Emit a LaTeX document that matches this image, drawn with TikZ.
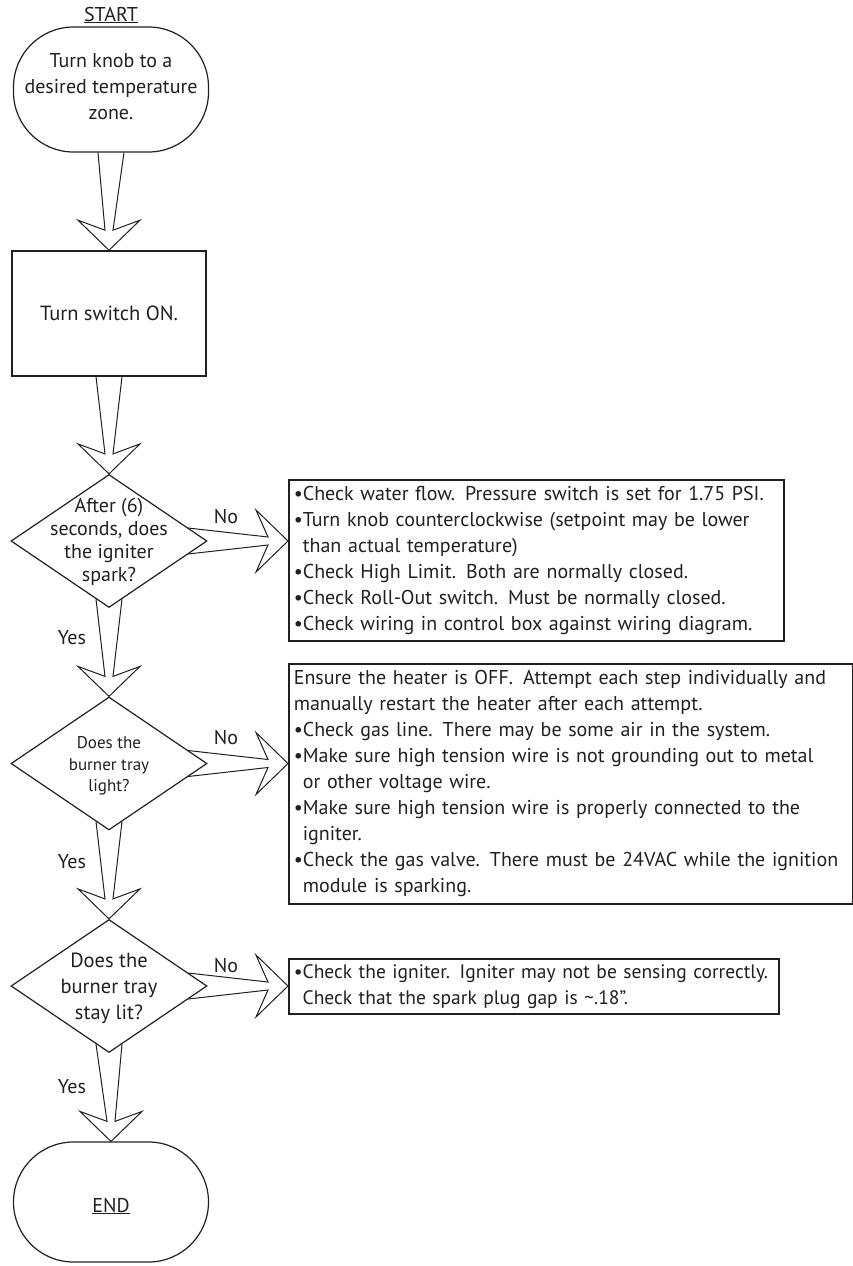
\documentclass[tikz,border=0pt]{standalone}
\usepackage{fontspec}
\setmainfont{PT Sans}
\usetikzlibrary{shapes.geometric,calc}
\definecolor{ink}{HTML}{231F20}
\newcommand{\dnarrow}[2]{%
  \draw[blockarrow] ($(#1)+(-13,0)$) -- ($(#2)+(-4,20)$) -- ($(#2)+(-31,30)$) -- (#2)
    -- ($(#2)+(31,30)$) -- ($(#2)+(4,20)$) -- ($(#1)+(13,0)$);}
\newcommand{\rtarrow}[2]{%
  \draw[blockarrow] ($(#1)+(0,13)$) -- ($(#2)+(-20,4)$) -- ($(#2)+(-32,31)$) -- (#2)
    -- ($(#2)+(-32,-31)$) -- ($(#2)+(-20,-4)$) -- ($(#1)+(0,-13)$);}
\newcommand{\cont}{\phantom{•}}
\newcommand{\tline}[1]{\mbox{#1}}
\newcommand{\dsp}{\hspace{0.5em}}
\tikzset{
  txt/.style={font=\fontsize{20}{26}\selectfont, text=ink},
  outline/.style={draw=ink, line width=1.6pt},
  termnode/.style={outline, line width=1.2pt, rounded corners=60pt, minimum width=195pt, minimum height=125pt, inner sep=0pt},
  procbox/.style={outline, rectangle, minimum width=194pt, minimum height=125pt, inner sep=0pt, txt},
  decision/.style={outline, line width=1.2pt, diamond, minimum width=196pt, minimum height=133pt, inner sep=0pt},
  notebox/.style={outline, rectangle, anchor=north west, inner xsep=5pt, inner ysep=2pt, align=left, txt},
  blockarrow/.style={draw=ink, line width=1pt, line join=miter},
}
\begin{document}
\begin{tikzpicture}[x=1pt,y=1pt]
\useasboundingbox (0,0) rectangle (853,-1266);
% labels
\node[txt] (startlbl) at (111,-15) {\underline{START}};
% terminal and process nodes
\node[termnode] (start) at (111,-89.5) {};
\node[txt, align=center] (starttxt) at (111,-87) {Turn knob to a\\desired temperature\\zone.};
\node[procbox, font=\fontsize{20.5}{26}\selectfont] (sw) at (109,-313.5) {Turn switch ON.};
% decisions
\node[decision] (d1) at (109,-541) {};
\node[txt, font=\fontsize{20}{23}\selectfont, align=center] (d1txt) at (109,-542) {After (6)\\seconds, does\\the igniter\\spark?};
\node[decision] (d2) at (109,-763.5) {};
\node[txt, font=\fontsize{17}{21.5}\selectfont, align=center] (d2txt) at (109,-766) {Does the\\burner tray\\light?};
\node[decision] (d3) at (109,-986) {};
\node[txt, font=\fontsize{20.5}{26}\selectfont, align=center] (d3txt) at (109,-988) {Does the\\burner tray\\stay lit?};
\node[termnode, minimum height=120pt] (end) at (111,-1202) {};
\node[txt] (endlbl) at (111,-1206) {\underline{END}};
% note boxes
\node[notebox, text width=485pt, minimum height=161pt] (n1) at (288,-479) {%
\tline{•Check water flow.\dsp Pressure switch is set for 1.75 PSI.}\\
\tline{•Turn knob counterclockwise (setpoint may be lower}\\
\tline{\cont than actual temperature)}\\
\tline{•Check High Limit.\dsp Both are normally closed.}\\
\tline{•Check Roll-Out switch.\dsp Must be normally closed.}\\
\tline{•Check wiring in control box against wiring diagram.}};
\node[notebox, text width=554pt, minimum height=240pt] (n2) at (288,-663) {%
\tline{Ensure the heater is OFF.\dsp Attempt each step individually and}\\
\tline{manually restart the heater after each attempt.}\\
\tline{•Check gas line.\dsp There may be some air in the system.}\\
\tline{•Make sure high tension wire is not grounding out to metal}\\
\tline{\cont or other voltage wire.}\\
\tline{•Make sure high tension wire is properly connected to the}\\
\tline{\cont igniter.}\\
\tline{•Check the gas valve.\dsp There must be 24VAC while the ignition}\\
\tline{\cont module is sparking.}};
\node[notebox, text width=480pt, minimum height=55pt, font=\fontsize{19.5}{26}\selectfont] (n3) at (288,-958) {%
\tline{•Check the igniter.\dsp Igniter may not be sensing correctly.}\\
\tline{\cont Check that the spark plug gap is \textasciitilde.18”.}};
% arrows
\dnarrow{start.south}{sw.north}
\dnarrow{sw.south}{d1.north}
\dnarrow{$(d1.south)+(0,9)$}{d2.north}
\dnarrow{$(d2.south)+(0,9)$}{d3.north}
\dnarrow{$(d3.south)+(0,9)$}{end.north}
\coordinate (t1) at (d1.east -| n1.west);
\coordinate (t2) at (d2.east -| n2.west);
\coordinate (t3) at (d3.east -| n3.west);
\rtarrow{$(d1.east)+(-19.6,0)$}{t1}
\rtarrow{$(d2.east)+(-19.6,0)$}{t2}
\rtarrow{$(d3.east)+(-19.6,0)$}{t3}
% branch labels
\node[txt] (no1) at (226,-517) {No};
\node[txt] (no2) at (226,-738) {No};
\node[txt] (no3) at (226,-965) {No};
\node[txt] (yes1) at (72,-638) {Yes};
\node[txt] (yes2) at (72,-862) {Yes};
\node[txt] (yes3) at (72,-1087) {Yes};
\end{tikzpicture}
\end{document}
